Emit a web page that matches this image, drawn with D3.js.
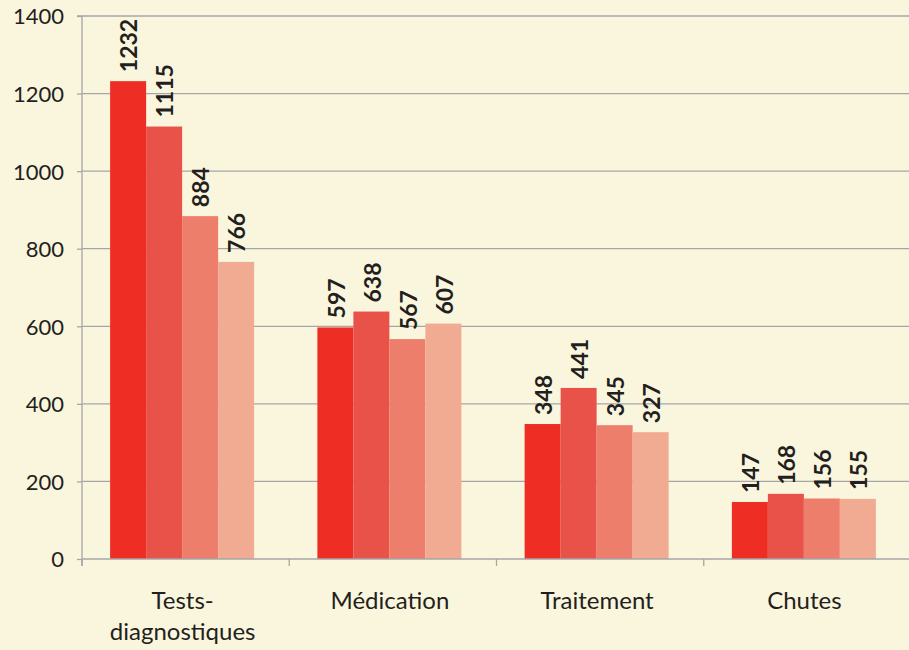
<!DOCTYPE html>
<html><head><meta charset="utf-8">
<script src="https://cdn.jsdelivr.net/npm/d3@7"></script>
<style>
html,body{margin:0;padding:0;background:#faf6dd;}
svg{display:block;}
</style></head>
<body>
<svg id="chart" width="909" height="650"></svg>
<script>
const categories = ["Tests-\ndiagnostiques", "Médication", "Traitement", "Chutes"];
const seriesNames = ["S1", "S2", "S3", "S4"];
const series1 = [1232, 597, 348, 147];
const series2 = [1115, 638, 441, 168];
const series3 = [884, 567, 345, 156];
const series4 = [766, 607, 327, 155];
const yTicks = [0, 200, 400, 600, 800, 1000, 1200, 1400];
const colors = ["#ee2e24", "#e95249", "#ee7e6c", "#f2ab93"];

const allSeries = [series1, series2, series3, series4];
const svg = d3.select("#chart");
const W = 909, H = 650;
const m = {left: 82, right: -2, top: 16, bottom: 91};
const x0 = d3.scaleBand().domain(d3.range(categories.length)).range([m.left, W - m.right]).paddingInner(0).paddingOuter(0);
const x1 = d3.scaleBand().domain(d3.range(seriesNames.length)).range([0, 144]);
const y = d3.scaleLinear().domain([0, 1400]).range([H - m.bottom, m.top]);
const groupOffset = (x0.bandwidth() - 144) / 2 - 3.5;
const font = "Lato, 'Open Sans', sans-serif";

svg.append("rect").attr("width", W).attr("height", H).attr("fill", "#faf6dd");

// gridlines
svg.append("g").selectAll("line").data(yTicks.filter(d => d > 0)).join("line")
  .attr("x1", m.left).attr("x2", W).attr("y1", d => y(d)).attr("y2", d => y(d))
  .attr("stroke", "#a6a6a6").attr("stroke-width", 1.3);

// y axis
const yAxis = d3.axisLeft(y).tickValues(yTicks).tickSize(5).tickPadding(13).tickFormat(d3.format("d"));
const gy = svg.append("g").attr("transform", `translate(${m.left},0)`).call(yAxis);
gy.select(".domain").attr("stroke", "#a6a6a6").attr("stroke-width", 1.3).attr("d", `M-5,${y(1400)}H0V${y(0)+7}`);
gy.selectAll(".tick line").attr("stroke", "#a6a6a6").attr("stroke-width", 1.3);
gy.selectAll(".tick text").attr("fill", "#231f20").style("font-family", font).style("font-size", "22px").attr("dy", "0.36em");

// bars
const groups = svg.append("g").selectAll("g").data(categories).join("g")
  .attr("transform", (d, i) => `translate(${x0(i) + groupOffset},0)`);
groups.selectAll("rect").data((d, i) => allSeries.map((s, j) => ({j, v: s[i]}))).join("rect")
  .attr("x", d => x1(d.j)).attr("width", x1.bandwidth())
  .attr("y", d => y(d.v)).attr("height", d => y(0) - y(d.v))
  .attr("fill", d => colors[d.j]);
groups.selectAll("text").data((d, i) => allSeries.map((s, j) => ({j, v: s[i]}))).join("text")
  .attr("transform", d => `translate(${x1(d.j) + x1.bandwidth()/2 + 1},${y(d.v) - 9}) rotate(-90)`)
  .attr("dy", "0.36em")
  .attr("text-anchor", "start")
  .attr("fill", "#231f20")
  .style("font-family", font).style("font-weight", "bold").style("font-size", "23px")
  .text(d => d.v);

// x axis
const gx = svg.append("g");
gx.append("line").attr("x1", m.left).attr("x2", W).attr("y1", y(0)).attr("y2", y(0)).attr("stroke", "#a6a6a6").attr("stroke-width", 1.5);
gx.selectAll(".xt").data(d3.range(categories.length + 1)).join("line").attr("class", "xt")
  .attr("x1", i => m.left + i * x0.bandwidth()).attr("x2", i => m.left + i * x0.bandwidth())
  .attr("y1", y(0)).attr("y2", y(0) + 7).attr("stroke", "#a6a6a6").attr("stroke-width", 1.3);
gx.selectAll(".xl").data(categories).join("text").attr("class", "xl")
  .attr("x", (d, i) => x0(i) + x0.bandwidth()/2 - 3)
  .attr("y", 609)
  .attr("text-anchor", "middle").attr("fill", "#231f20")
  .style("font-family", font).style("font-size", "24px")
  .each(function(d) {
    const lines = d.split("\n");
    d3.select(this).selectAll("tspan").data(lines).join("tspan")
      .attr("x", d3.select(this).attr("x")).attr("dy", (l, k) => k === 0 ? 0 : 31).text(l => l);
  });
</script>
</body></html>
